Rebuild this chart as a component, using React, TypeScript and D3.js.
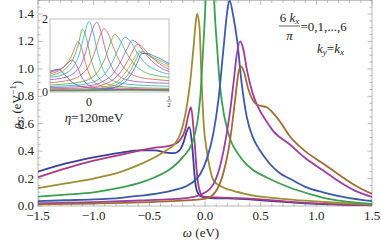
import React from "react";
import * as d3 from "d3";

type P = [number, number];

// main plot: 6 k_x / pi = 0..6
const seriesK0: P[] = [[-1.5,0.25],[-1.25,0.31],[-1.0,0.355],[-0.75,0.39],[-0.58,0.405],[-0.45,0.405],[-0.35,0.39],[-0.28,0.385],[-0.225,0.41],[-0.195,0.46],[-0.165,0.54],[-0.141,0.575],[-0.12,0.48],[-0.105,0.34],[-0.09,0.19],[-0.07,0.105],[-0.03,0.068],[0.05,0.058],[0.2,0.055],[0.4,0.048],[0.6,0.036],[0.8,0.024],[1.0,0.015],[1.25,0.009],[1.5,0.005]];
const seriesK1: P[] = [[-1.5,0.21],[-1.25,0.275],[-1.0,0.33],[-0.75,0.375],[-0.58,0.405],[-0.45,0.425],[-0.31,0.44],[-0.225,0.48],[-0.18,0.55],[-0.15,0.66],[-0.126,0.72],[-0.105,0.58],[-0.09,0.43],[-0.075,0.26],[-0.05,0.117],[-0.015,0.068],[0.1,0.062],[0.3,0.057],[0.5,0.048],[0.7,0.035],[0.9,0.023],[1.1,0.015],[1.3,0.01],[1.5,0.006]];
const seriesK2: P[] = [[-1.5,0.13],[-1.25,0.165],[-1.0,0.2],[-0.75,0.25],[-0.58,0.305],[-0.45,0.355],[-0.34,0.41],[-0.28,0.445],[-0.225,0.52],[-0.195,0.6],[-0.165,0.72],[-0.135,0.89],[-0.105,1.14],[-0.08,1.36],[-0.07,1.4],[-0.05,1.31],[-0.03,0.9],[-0.01,0.58],[0.015,0.41],[0.045,0.27],[0.075,0.19],[0.15,0.14],[0.225,0.117],[0.35,0.09],[0.46,0.072],[0.6,0.06],[0.8,0.045],[1.06,0.03],[1.3,0.018],[1.5,0.011]];
const seriesK3: P[] = [[-1.5,0.068],[-1.25,0.083],[-1.0,0.1],[-0.75,0.135],[-0.58,0.17],[-0.45,0.21],[-0.35,0.25],[-0.28,0.29],[-0.195,0.36],[-0.12,0.45],[-0.09,0.53],[-0.06,0.66],[-0.04,0.82],[-0.02,1.1],[0.0,1.4],[0.015,1.7],[0.045,2.0],[0.07,1.75],[0.085,1.45],[0.11,1.14],[0.13,0.92],[0.15,0.77],[0.21,0.53],[0.315,0.36],[0.42,0.27],[0.55,0.21],[0.76,0.135],[0.95,0.085],[1.12,0.05],[1.3,0.03],[1.5,0.015]];
const seriesK4: P[] = [[-1.5,0.036],[-1.25,0.042],[-1.0,0.048],[-0.75,0.06],[-0.58,0.075],[-0.45,0.088],[-0.28,0.115],[-0.135,0.16],[-0.045,0.23],[0.015,0.34],[0.075,0.53],[0.12,0.77],[0.165,1.14],[0.2,1.42],[0.22,1.5],[0.255,1.38],[0.29,1.2],[0.33,0.89],[0.375,0.65],[0.43,0.5],[0.49,0.41],[0.58,0.31],[0.67,0.24],[0.76,0.2],[0.9,0.14],[1.06,0.1],[1.25,0.065],[1.5,0.036]];
const seriesK5: P[] = [[-1.5,0.02],[-1.0,0.028],[-0.58,0.04],[-0.3,0.05],[-0.15,0.06],[-0.045,0.08],[0.06,0.14],[0.135,0.29],[0.195,0.53],[0.23,0.72],[0.255,0.89],[0.285,1.1],[0.315,1.2],[0.345,1.14],[0.375,1.0],[0.405,0.89],[0.45,0.77],[0.49,0.7],[0.55,0.62],[0.61,0.55],[0.76,0.45],[0.9,0.35],[1.06,0.26],[1.2,0.18],[1.35,0.11],[1.5,0.066]];
const seriesK6: P[] = [[-1.5,0.012],[-1.0,0.018],[-0.58,0.026],[-0.3,0.035],[-0.1,0.045],[0.015,0.056],[0.105,0.117],[0.165,0.24],[0.225,0.48],[0.27,0.77],[0.3,0.97],[0.32,1.02],[0.345,0.99],[0.39,0.85],[0.45,0.75],[0.5,0.73],[0.555,0.72],[0.62,0.67],[0.67,0.62],[0.76,0.51],[0.9,0.4],[1.06,0.31],[1.2,0.23],[1.35,0.15],[1.5,0.088]];

const mainSeries = [seriesK0, seriesK1, seriesK2, seriesK3, seriesK4, seriesK5, seriesK6];
const mainColors = ["#3c3ca0", "#a83c82", "#a08c34", "#3ca050", "#3c5aa8", "#a03ca4", "#a06c34"];

const xTicks = [-1.5, -1.0, -0.5, 0.0, 0.5, 1.0, 1.5];
const xTickLabels = ["\u22121.5", "\u22121.0", "\u22120.5", "0.0", "0.5", "1.0", "1.5"];
const yTicks = [0, 0.2, 0.4, 0.6, 0.8, 1.0, 1.2, 1.4];
const yTickLabels = ["0.0", "0.2", "0.4", "0.6", "0.8", "1.0", "1.2", "1.4"];

// inset curves (eta = 120 meV)
const insetA: P[] = [[-0.25,0.56],[-0.22,0.6],[-0.19,0.62],[-0.16,0.52],[-0.12,0.32],[-0.08,0.2],[-0.03,0.13],[0.05,0.09],[0.2,0.07],[0.35,0.06],[0.5,0.05]];
const insetB: P[] = [[-0.25,0.53],[-0.2,0.6],[-0.16,0.68],[-0.13,0.8],[-0.105,0.88],[-0.08,0.75],[-0.05,0.45],[-0.02,0.25],[0.02,0.14],[0.1,0.09],[0.3,0.065],[0.5,0.05]];
const insetC: P[] = [[-0.25,0.49],[-0.2,0.56],[-0.15,0.72],[-0.11,0.98],[-0.085,1.25],[-0.07,1.38],[-0.05,1.25],[-0.025,0.85],[0.0,0.5],[0.04,0.25],[0.1,0.14],[0.3,0.09],[0.5,0.07]];
const insetD: P[] = [[-0.25,0.44],[-0.2,0.5],[-0.15,0.62],[-0.1,0.9],[-0.07,1.25],[-0.04,1.72],[-0.015,1.45],[0.01,0.95],[0.04,0.55],[0.08,0.3],[0.15,0.18],[0.3,0.12],[0.5,0.1]];
const insetE: P[] = [[-0.25,0.4],[-0.2,0.43],[-0.15,0.5],[-0.1,0.68],[-0.06,1.05],[-0.03,1.55],[0.0,1.93],[0.025,1.65],[0.05,1.15],[0.08,0.7],[0.12,0.4],[0.2,0.24],[0.35,0.18],[0.5,0.16]];
const insetF: P[] = [[-0.25,0.33],[-0.2,0.36],[-0.15,0.4],[-0.1,0.5],[-0.05,0.75],[-0.01,1.25],[0.02,1.7],[0.048,1.91],[0.075,1.65],[0.1,1.2],[0.13,0.8],[0.17,0.5],[0.25,0.32],[0.37,0.26],[0.5,0.24]];
const insetG: P[] = [[-0.25,0.25],[-0.2,0.27],[-0.15,0.3],[-0.1,0.35],[-0.05,0.47],[0.0,0.72],[0.04,1.15],[0.07,1.55],[0.094,1.73],[0.12,1.6],[0.15,1.25],[0.19,0.85],[0.24,0.57],[0.32,0.4],[0.42,0.34],[0.5,0.31]];
const insetH: P[] = [[-0.25,0.19],[-0.15,0.22],[-0.05,0.28],[0.0,0.35],[0.05,0.52],[0.1,0.92],[0.135,1.35],[0.16,1.58],[0.19,1.45],[0.23,1.1],[0.28,0.78],[0.34,0.56],[0.42,0.45],[0.5,0.4]];
const insetI: P[] = [[-0.25,0.15],[-0.15,0.17],[-0.05,0.2],[0.0,0.24],[0.05,0.32],[0.1,0.5],[0.15,0.85],[0.19,1.25],[0.225,1.5],[0.26,1.38],[0.3,1.08],[0.35,0.8],[0.42,0.6],[0.5,0.49]];
const insetJ: P[] = [[-0.25,0.12],[-0.15,0.13],[-0.05,0.15],[0.0,0.17],[0.05,0.22],[0.1,0.32],[0.15,0.5],[0.2,0.85],[0.24,1.2],[0.27,1.42],[0.3,1.35],[0.34,1.12],[0.39,0.86],[0.45,0.66],[0.5,0.56]];
const insetK: P[] = [[-0.25,0.09],[-0.1,0.1],[0.0,0.12],[0.05,0.15],[0.1,0.22],[0.15,0.34],[0.2,0.56],[0.25,0.92],[0.28,1.18],[0.3,1.3],[0.33,1.25],[0.37,1.05],[0.42,0.84],[0.5,0.62]];
const insetL: P[] = [[-0.25,0.07],[-0.1,0.075],[0.0,0.085],[0.05,0.1],[0.1,0.14],[0.15,0.22],[0.2,0.38],[0.25,0.68],[0.29,0.98],[0.31,1.12],[0.34,1.1],[0.38,0.98],[0.43,0.84],[0.5,0.69]];
const insetM: P[] = [[-0.25,0.05],[-0.1,0.055],[0.0,0.06],[0.05,0.075],[0.1,0.1],[0.15,0.16],[0.2,0.28],[0.25,0.52],[0.29,0.85],[0.32,1.08],[0.35,1.06],[0.4,0.95],[0.45,0.85],[0.5,0.74]];
const insetN: P[] = [[-0.25,0.05],[-0.1,0.05],[0.0,0.05],[0.05,0.055],[0.1,0.07],[0.15,0.11],[0.2,0.2],[0.25,0.4],[0.3,0.78],[0.33,1.05],[0.36,1.06],[0.41,0.98],[0.46,0.88],[0.5,0.78]];
const insetO: P[] = [[-0.25,0.04],[-0.1,0.04],[0.0,0.045],[0.1,0.05],[0.2,0.06],[0.3,0.065],[0.4,0.06],[0.5,0.05]];
const insetP: P[] = [[-0.25,0.03],[-0.1,0.03],[0.0,0.035],[0.1,0.04],[0.2,0.045],[0.3,0.045],[0.4,0.04],[0.5,0.035]];

const insetSeries = [insetA, insetB, insetC, insetD, insetE, insetF, insetG, insetH, insetI, insetJ, insetK, insetL, insetM, insetN, insetO, insetP];
const insetColors = ["#4a48a8", "#8a4cb8", "#d0603e", "#4caa48", "#36a6c6", "#9a52c8", "#cc6444", "#52ac44", "#3aa8c4", "#9450c4", "#d05a50", "#b0a23a", "#48a868", "#4a5ec0", "#b848a0", "#50a050"];

const SERIF = "'Liberation Serif', 'DejaVu Serif', 'Times New Roman', serif";

export default function App() {
  const W = 381, H = 241;
  const x = d3.scaleLinear().domain([-1.5, 1.5]).range([38, 372]);
  const y = d3.scaleLinear().domain([0, 1.5]).range([206, 0.3]);
  const line = d3.line<P>().x(d => x(d[0])).y(d => y(d[1])).curve(d3.curveMonotoneX);

  const ix = d3.scaleLinear().domain([-0.25, 0.5]).range([49, 169]);
  const iy = d3.scaleLinear().domain([0, 2]).range([92, 19]);
  const iline = d3.line<P>().x(d => ix(d[0])).y(d => iy(d[1])).curve(d3.curveMonotoneX);

  const xMinor = d3.range(-15, 16).map(v => v / 10);
  const yMinor = d3.range(0, 31).map(v => v / 20);
  const [x0, x1] = x.range();
  const [y0, y1] = [y(0), y(1.5)];
  const tickCol = "#9a9a9a";

  return (
    <svg width={W} height={H} style={{ position: "absolute", left: 0, top: 0, background: "#fff" }} fontFamily={SERIF}>
      <defs>
        <clipPath id="mainClip"><rect x={x0} y={y1} width={x1 - x0} height={y0 - y1} /></clipPath>
        <clipPath id="insetClip"><rect x={50} y={19} width={119} height={73} /></clipPath>
      </defs>
      {/* frame */}
      <rect x={x0} y={y1} width={x1 - x0} height={y0 - y1} fill="none" stroke="#a8a8a8" strokeWidth={0.8} />
      {xMinor.map((v, i) => {
        const major = Math.abs(v * 2 - Math.round(v * 2)) < 1e-6;
        const len = major ? 4.5 : 2.5;
        return (
          <g key={"xt" + i} stroke={tickCol} strokeWidth={0.7}>
            <line x1={x(v)} x2={x(v)} y1={y0} y2={y0 - len} />
            <line x1={x(v)} x2={x(v)} y1={y1} y2={y1 + len} />
          </g>
        );
      })}
      {yMinor.map((v, i) => {
        const major = Math.abs(v * 5 - Math.round(v * 5)) < 1e-6;
        const len = major ? 4.5 : 2.5;
        return (
          <g key={"yt" + i} stroke={tickCol} strokeWidth={0.7}>
            <line x1={x0} x2={x0 + len} y1={y(v)} y2={y(v)} />
            <line x1={x1} x2={x1 - len} y1={y(v)} y2={y(v)} />
          </g>
        );
      })}
      {xTicks.map((v, i) => (
        <text key={"xl" + i} x={x(v)} y={219.5} fontSize={13} textAnchor="middle" fill="#222">{xTickLabels[i]}</text>
      ))}
      {yTicks.map((v, i) => (
        <text key={"yl" + i} x={34} y={y(v) + 4} fontSize={13} textAnchor="end" fill="#222">{yTickLabels[i]}</text>
      ))}
      {/* curves */}
      <g clipPath="url(#mainClip)" fill="none" strokeWidth={1.8} strokeLinejoin="round">
        {mainSeries.map((s, i) => (
          <path key={"m" + i} d={line(s) || ""} stroke={mainColors[i]} />
        ))}
      </g>
      {/* axis labels */}
      <text x={201} y={237} fontSize={13} textAnchor="middle" fill="#222">
        <tspan fontStyle="italic">ω</tspan> (eV)
      </text>
      <text transform="translate(21,105) rotate(-90)" fontSize={12.5} textAnchor="middle" fill="#222">
        <tspan fontStyle="italic">ρ</tspan><tspan fontStyle="italic" fontSize={9} dy={3}>G</tspan><tspan dy={-3}> (eV</tspan><tspan fontSize={9} dy={-5}>−1</tspan><tspan dy={5}>)</tspan>
      </text>
      {/* annotation */}
      <g fill="#222" fontSize={13}>
        <text x={289.5} y={22} textAnchor="middle">6 <tspan fontStyle="italic">k</tspan><tspan fontStyle="italic" fontSize={9} dy={2}>x</tspan></text>
        <line x1={279} x2={300} y1={26} y2={26} stroke="#222" strokeWidth={0.7} />
        <text x={289.5} y={40} textAnchor="middle" fontStyle="italic">π</text>
        <text x={300.5} y={30.5}>=0,1,...,6</text>
        <text x={317} y={53}><tspan fontStyle="italic">k</tspan><tspan fontStyle="italic" fontSize={9} dy={2}>y</tspan><tspan dy={-2}>=</tspan><tspan fontStyle="italic">k</tspan><tspan fontStyle="italic" fontSize={9} dy={2}>x</tspan></text>
      </g>
      {/* inset */}
      <rect x={50} y={19} width={119} height={73} fill="#fff" stroke="#b0b0b0" strokeWidth={0.8} />
      <g clipPath="url(#insetClip)" fill="none" strokeWidth={0.8}>
        {insetSeries.map((s, i) => (
          <path key={"i" + i} d={iline(s) || ""} stroke={insetColors[i]} />
        ))}
      </g>
      <g fill="#222">
        <text x={48} y={23} fontSize={12} textAnchor="end">2</text>
        <text x={48} y={95.5} fontSize={12} textAnchor="end">0</text>
        <text x={ix(0)} y={106} fontSize={12} textAnchor="middle">0</text>
        <text x={ix(0.5)} y={99.5} fontSize={7} textAnchor="middle">1</text>
        <line x1={ix(0.5) - 2.5} x2={ix(0.5) + 2.5} y1={101.2} y2={101.2} stroke="#222" strokeWidth={0.5} />
        <text x={ix(0.5)} y={107} fontSize={7} textAnchor="middle">2</text>
        <text x={94} y={122} fontSize={13} textAnchor="middle"><tspan fontStyle="italic">η</tspan>=120meV</text>
      </g>
    </svg>
  );
}
